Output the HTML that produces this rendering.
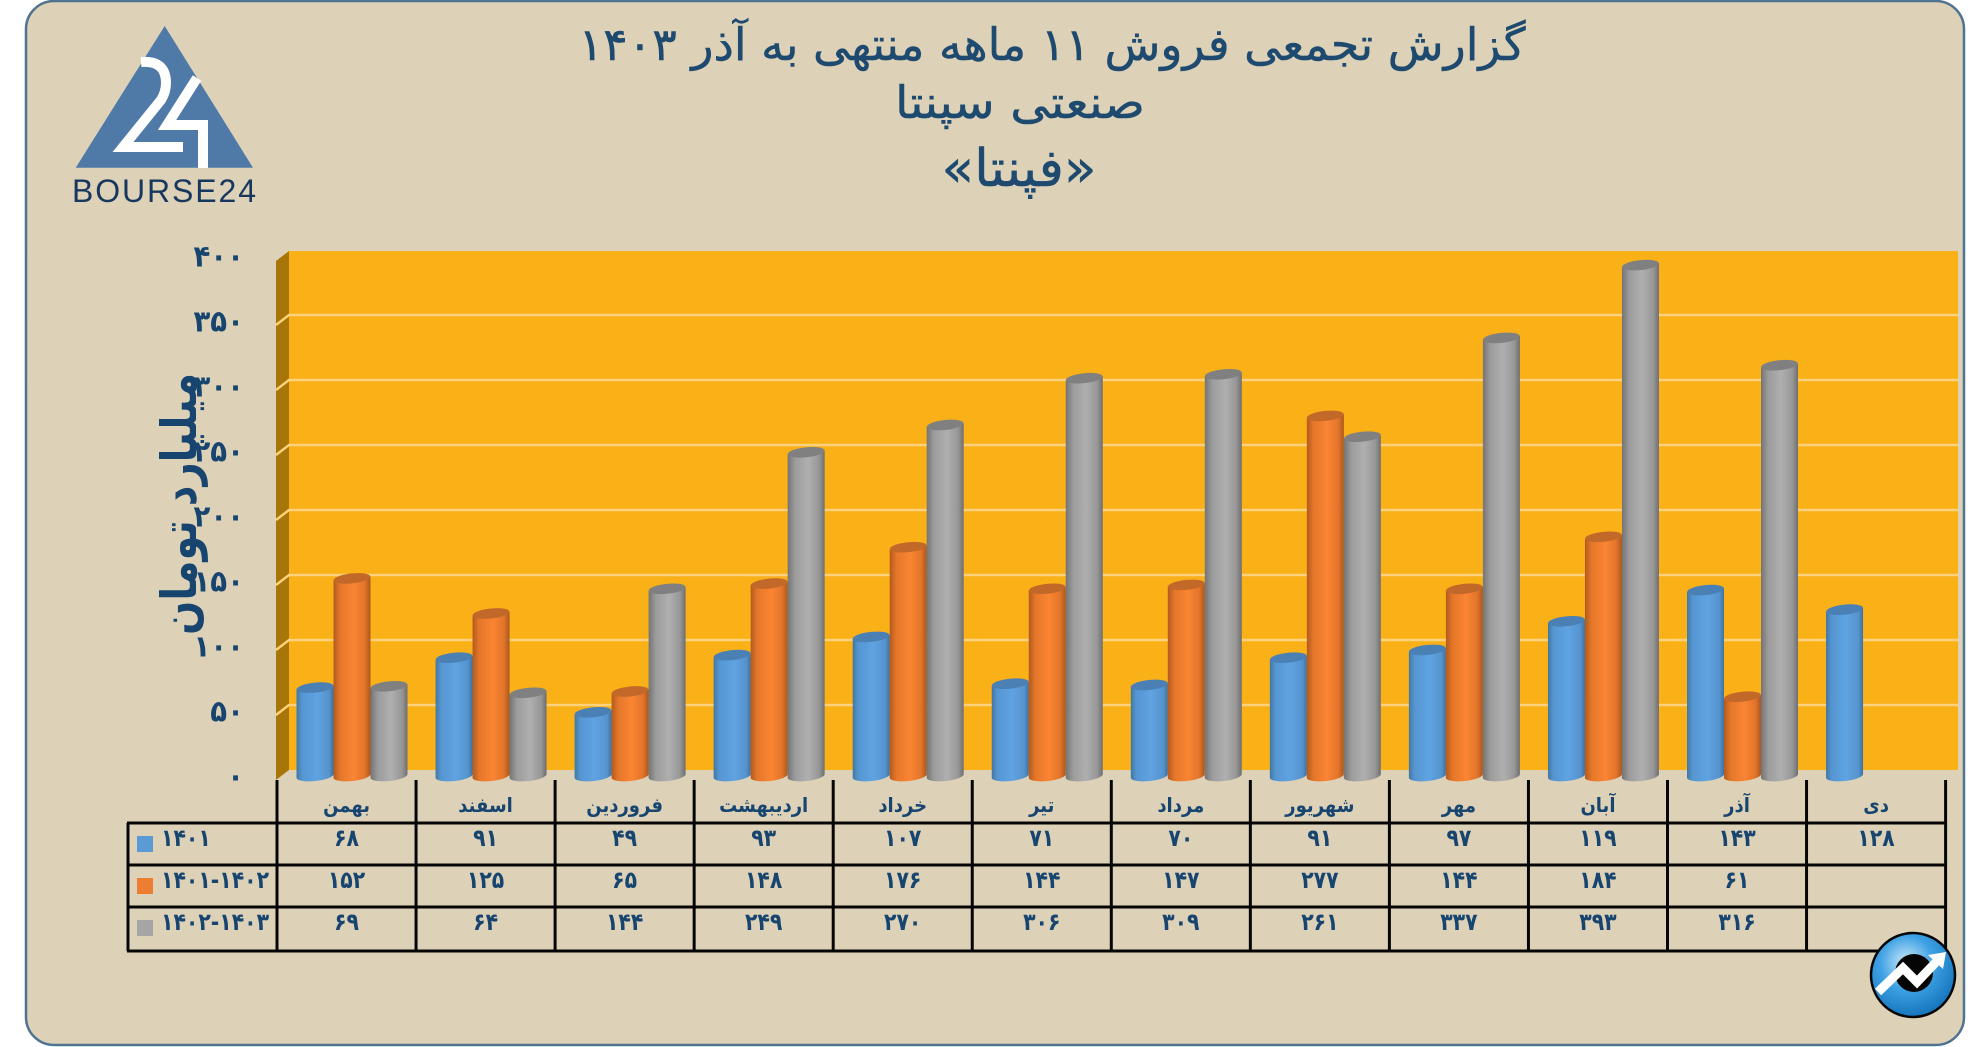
<!DOCTYPE html>
<html lang="fa">
<head>
<meta charset="utf-8">
<title>گزارش تجمعی فروش فپنتا</title>
<style>
html,body{margin:0;padding:0;background:#fff;}
svg{display:block;}
text{font-family:"DejaVu Sans","Liberation Sans",sans-serif;}
</style>
</head>
<body>
<svg id="chart" xmlns="http://www.w3.org/2000/svg" width="1986" height="1047" viewBox="0 0 1986 1047">
  <defs>
    <linearGradient id="grad-blue" x1="0" x2="1" y1="0" y2="0">
      <stop offset="0" stop-color="#42779f"/><stop offset=".15" stop-color="#5596d2"/><stop offset=".55" stop-color="#60a3e2"/><stop offset=".88" stop-color="#5593cd"/><stop offset="1" stop-color="#3f709f"/>
    </linearGradient>
    <linearGradient id="grad-orange" x1="0" x2="1" y1="0" y2="0">
      <stop offset="0" stop-color="#b25a1e"/><stop offset=".18" stop-color="#e5772a"/><stop offset=".55" stop-color="#fa8533"/><stop offset=".85" stop-color="#e2742a"/><stop offset="1" stop-color="#aa571e"/>
    </linearGradient>
    <linearGradient id="grad-gray" x1="0" x2="1" y1="0" y2="0">
      <stop offset="0" stop-color="#747474"/><stop offset=".2" stop-color="#9c9c9c"/><stop offset=".55" stop-color="#afafaf"/><stop offset=".85" stop-color="#979797"/><stop offset="1" stop-color="#6e6e6e"/>
    </linearGradient>
    <radialGradient id="badge-grad" cx=".42" cy=".35" r=".7">
      <stop offset="0" stop-color="#cfe9f8"/><stop offset=".45" stop-color="#3fa2e4"/><stop offset="1" stop-color="#0f6fb8"/>
    </radialGradient>
  </defs>

  <rect x="26" y="1" width="1938" height="1044" rx="28" ry="28" fill="#ddd2b8" stroke="#4f7391" stroke-width="2.5"/>

  <g>
    <polygon points="164.7,26 253,167.7 75.7,167.7" fill="#4f7aa8"/>
    <path d="M141 62 Q166 60 166 83 Q166 92 161 100 L123 147 L183 147" fill="none" stroke="#fff" stroke-width="10"/>
    <path d="M197 78 L167 125 L203 125 L203 168" fill="none" stroke="#fff" stroke-width="10"/>
    <text x="72" y="202" font-size="32" textLength="184" lengthAdjust="spacing" fill="#17375e" style="font-family:'Liberation Sans',sans-serif">BOURSE24</text>
  </g>

  <g fill="#1e4a70" stroke="#1e4a70" stroke-width=".5" text-anchor="middle" style="direction:rtl">
    <text x="1052" y="60" font-size="45" textLength="947" lengthAdjust="spacingAndGlyphs">گزارش تجمعی فروش ۱۱ ماهه منتهی به آذر ۱۴۰۳</text>
    <text x="1020" y="118" font-size="45" textLength="250" lengthAdjust="spacingAndGlyphs">صنعتی سپنتا</text>
    <text x="1019" y="186" font-size="52" textLength="155" lengthAdjust="spacingAndGlyphs">«فپنتا»</text>
  </g>

  <polygon points="289,251 1958,251 1958,770 289,770" fill="#fab017"/>
  <polygon points="276,261 289,251 289,770 276,780" fill="#a87508"/>
  <g id="gridlines"></g>
  <g id="yticks"></g>
  <text transform="translate(196,504) rotate(-90)" text-anchor="middle" font-size="49" font-weight="bold" fill="#17456f" textLength="262" lengthAdjust="spacingAndGlyphs" style="direction:rtl">میلیارد تومان</text>
  <g id="bars"></g>
  <g id="table"></g>

  <g>
    <circle cx="1913" cy="975" r="42" fill="url(#badge-grad)" stroke="#060606" stroke-width="2.5"/>
    <circle cx="1914" cy="973" r="19" fill="#050505"/>
    <path d="M1878 992 L1903 968 L1917 982 L1938 960" fill="none" stroke="#fff" stroke-width="9"/>
    <polygon points="1928,955 1946,952 1943,969" fill="#fff"/>
  </g>
</svg>

<script>
var categories = ["بهمن", "اسفند", "فروردین", "اردیبهشت", "خرداد", "تیر", "مرداد", "شهریور", "مهر", "آبان", "آذر", "دی"];
var series1401 = [68, 91, 49, 93, 107, 71, 70, 91, 97, 119, 143, 128];
var series14012 = [152, 125, 65, 148, 176, 144, 147, 277, 144, 184, 61, null];
var series14023 = [69, 64, 144, 249, 270, 306, 309, 261, 337, 393, 316, null];
var seriesNames = ["۱۴۰۱", "۱۴۰۱-۱۴۰۲", "۱۴۰۲-۱۴۰۳"];
var yTicks = [0, 50, 100, 150, 200, 250, 300, 350, 400];

var NS = "http://www.w3.org/2000/svg";
var allSeries = [series1401, series14012, series14023];
var fills = ["url(#grad-blue)", "url(#grad-orange)", "url(#grad-gray)"];
var caps = ["#4a80b4", "#c2692a", "#808080"];
var swatches = ["#5b9bd5", "#ed7d31", "#a5a5a5"];
var seriesKeys = ["1401", "1401-1402", "1402-1403"];

var CAT_X0 = 277, CAT_W = 139.05, BAR_W = 37, BAR_OFF = 19.5;
var ROW_Y = [823, 865, 907, 951];

function fa(n) {
  return String(n).replace(/\d/g, function (d) { return "۰۱۲۳۴۵۶۷۸۹"[d]; });
}
function yBack(v) { return 770 - v * 1.3; }   /* value on the back wall */
function yFront(v) { return 776 - v * 1.3; }  /* value at the bar plane */
function yLabel(v) { return 777 - v * 1.3; }  /* tick label position */
function xCat(i) { return CAT_X0 + i * CAT_W; }
function xBar(i, s) { return xCat(i) + BAR_OFF + s * BAR_W; }

function make(parent, tag, attrs, text) {
  var el = document.createElementNS(NS, tag);
  for (var k in attrs) el.setAttribute(k, attrs[k]);
  if (text !== undefined) el.textContent = text;
  parent.appendChild(el);
  return el;
}
function squeeze(el, factor) {
  el.setAttribute("textLength", el.getComputedTextLength() * factor);
  el.setAttribute("lengthAdjust", "spacingAndGlyphs");
}

var gridG = document.getElementById("gridlines");
var tickG = document.getElementById("yticks");
yTicks.forEach(function (v) {
  if (v !== 0 && v !== 400) {
    var gl = make(gridG, "polyline", {
      points: "276," + (yBack(v) + 10) + " 289," + yBack(v) + " 1958," + yBack(v),
      fill: "none", stroke: "#fcd27e", "stroke-width": 2.4
    });
    
    
  }
  var t = make(tickG, "text", {
    x: 244, y: yLabel(v), "text-anchor": "end", "dominant-baseline": "central",
    "font-size": 30, "font-weight": "bold", fill: "#17456f"
  }, fa(v));
  
  
  squeeze(t, 0.92);
});

var barG = document.getElementById("bars");
categories.forEach(function (c, i) {
  allSeries.forEach(function (arr, s) {
    var v = arr[i];
    if (v === null || v === undefined) return;
    var x = xBar(i, s), top = yFront(v), bot = yFront(0), rx = BAR_W / 2, ry = 5, d = 2;
    var body = make(barG, "path", {
      d: "M" + x + " " + (top + d) + " L" + x + " " + (bot + d) +
         " A" + rx + " " + ry + " -6 0 0 " + (x + BAR_W) + " " + (bot - d) +
         " L" + (x + BAR_W) + " " + (top - d) + " Z",
      fill: fills[s]
    });
    
    
    var cap = make(barG, "ellipse", {
      cx: x + rx, cy: top, rx: rx, ry: ry, fill: caps[s],
      transform: "rotate(-6 " + (x + rx) + " " + top + ")"
    });
    
    
  });
});

var tableG = document.getElementById("table");
function tableLine(x1, y1, x2, y2) {
  var ln = make(tableG, "line", { x1: x1, y1: y1, x2: x2, y2: y2, stroke: "#050505", "stroke-width": 3 });
  
  
}
ROW_Y.forEach(function (y) { tableLine(127, y, xCat(12) + 1, y); });
tableLine(128, ROW_Y[0], 128, ROW_Y[3]);
for (var vi = 0; vi <= 12; vi++) { tableLine(xCat(vi), 780, xCat(vi), ROW_Y[3]); }

categories.forEach(function (c, i) {
  var cl = make(tableG, "text", {
    x: xCat(i) + CAT_W / 2, y: 805, "text-anchor": "middle", "dominant-baseline": "central",
    "font-size": 20, "font-weight": "bold", fill: "#17456f", style: "direction:rtl"
  }, c);
  
  
  squeeze(cl, 0.9);
});

allSeries.forEach(function (arr, s) {
  var rowY = ROW_Y[s] + 15;
  var sw = make(tableG, "rect", { x: 137, y: ROW_Y[s] + 13, width: 16, height: 16, fill: swatches[s] });
  
  
  var lab = make(tableG, "text", {
    x: 161, y: rowY, "dominant-baseline": "central",
    "font-size": 24, "font-weight": "bold", fill: "#17456f"
  }, seriesNames[s]);
  
  
  squeeze(lab, 0.85);
  arr.forEach(function (v, i) {
    if (v === null || v === undefined) return;
    var cell = make(tableG, "text", {
      x: xCat(i) + CAT_W / 2, y: rowY, "text-anchor": "middle", "dominant-baseline": "central",
      "font-size": 24, "font-weight": "bold", fill: "#17456f"
    }, fa(v));
    
    
    squeeze(cell, 0.85);
  });
});
</script>
</body>
</html>
